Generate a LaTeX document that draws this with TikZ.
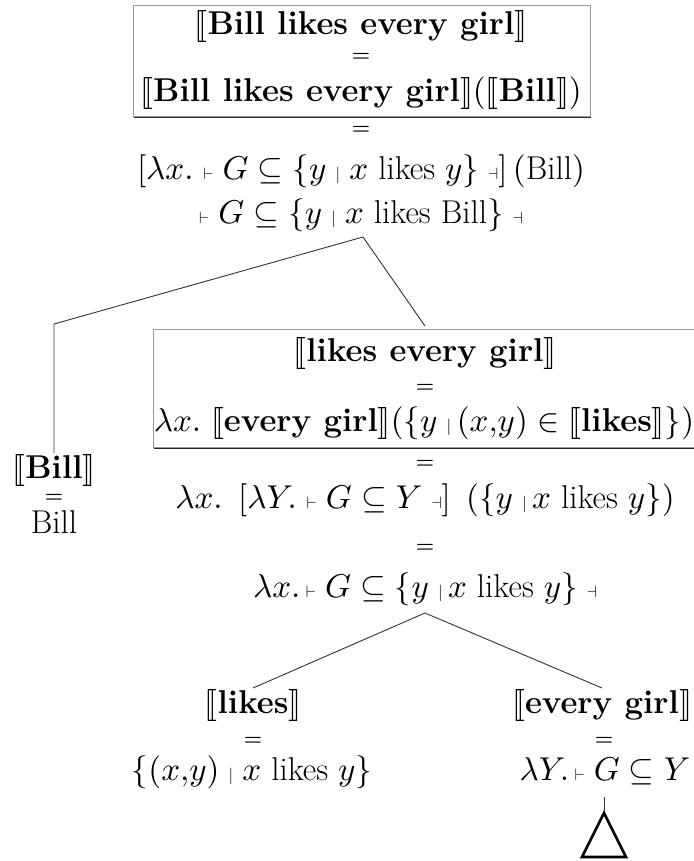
\documentclass[tikz,border=0pt]{standalone}
\usepackage{amsmath,amssymb,stmaryrd}
\DeclareFontShape{OT1}{cmr}{m}{n}{<->cmr10}{}
\DeclareFontShape{OML}{cmm}{m}{it}{<->cmmi10}{}
\DeclareFontShape{OMS}{cmsy}{m}{n}{<->cmsy10}{}
\DeclareFontShape{OMX}{cmex}{m}{n}{<->cmex10}{}
\usetikzlibrary{shadows}
\newcommand{\myvd}{{\scriptscriptstyle\vdash}\;}
\newcommand{\mydv}{\;{\scriptscriptstyle\dashv}}
\newcommand{\mybar}{\;{\scriptscriptstyle|}\;}
\newcommand{\mybarL}{\;{\scriptscriptstyle|}\,}
\newcommand{\lsb}{\mathopen{\text{\scalebox{3.2}{\fontsize{10}{12}\selectfont$\llbracket$}}}}
\newcommand{\rsb}{\mathclose{\text{\scalebox{3.2}{\fontsize{10}{12}\selectfont$\rrbracket$}}}}
\newcommand{\sem}[1]{\lsb\textbf{#1}\rsb}
\begin{document}
\begin{tikzpicture}[x=1pt,y=-1pt,
  txt/.style={inner sep=0pt, anchor=base, font=\fontsize{33}{38}\selectfont},
  bld/.style={inner sep=0pt, anchor=base, font=\fontsize{33}{38}\selectfont},
  eqs/.style={inner sep=0pt, anchor=base, font=\fontsize{21}{25}\selectfont},
  branch/.style={draw=black!80, line width=0.9pt},
  semibox/.style={draw=black!40, line width=0.8pt, fill=white, inner sep=0pt,
    drop shadow={shadow xshift=1.3pt, shadow yshift=-1.6pt, fill=black!85, opacity=1}},
  tri/.style={draw=black, line width=2.6pt, line join=miter}]
\useasboundingbox (0,0) rectangle (693,861);
% boxes
\node[semibox, minimum width=457pt, minimum height=111pt] (box1) at (361.5,60.5) {};
\node[semibox, minimum width=552pt, minimum height=118pt] (box2) at (429,388) {};
% top box text
\node[bld] (t1) at (361,35) {$\sem{Bill likes every girl}$};
\node[eqs] (t2) at (361,62) {\textbf{=}};
\node[bld] (t3) at (361,102) {$\sem{Bill likes every girl}(\sem{Bill})$};
% below top box
\node[eqs] (t4) at (361,135) {\textbf{=}};
\node[txt] (t5) at (361,179) {$[\lambda x.\ \myvd G\subseteq\{y\mybar x\ \text{likes}\ y\}\mydv]\,(\text{Bill})$};
\node[txt] (t6) at (361,223) {$\myvd G\subseteq\{y\mybar x\ \text{likes Bill}\}\mydv$};
% Bill column
\node[bld] (u1) at (54,478) {$\sem{Bill}$};
\node[eqs] (u2) at (54,502) {\textbf{=}};
\node[txt] (u3) at (54,533) {Bill};
% second box text
\node[bld] (s1) at (425,361) {$\sem{likes every girl}$};
\node[eqs] (s2) at (425,392) {\textbf{=}};
\node[txt] (s3) at (424,431) {$\lambda x.\ \sem{every girl}(\{y\mybarL(x{,}y)\in\sem{likes}\})$};
\node[eqs] (s4) at (425,468) {\textbf{=}};
\node[txt] (s5) at (425,508) {$\lambda x.\ \,[\lambda Y.\ \myvd G\subseteq Y\mydv]\ \,(\{y\mybarL x\ \text{likes}\ y\})$};
\node[eqs] (s6) at (425,552) {\textbf{=}};
\node[txt] (s7) at (425,597) {$\lambda x.\,\myvd G\subseteq\{y\mybarL x\ \text{likes}\ y\}\mydv$};
% bottom left
\node[bld] (b1) at (253,713) {$\sem{likes}$};
\node[eqs] (b2) at (253,745) {\textbf{=}};
\node[txt] (b3) at (252,780) {$\{(x{,}y)\mybar x\ \text{likes}\ y\}$};
% bottom right
\node[bld] (c1) at (602,713) {$\sem{every girl}$};
\node[eqs] (c2) at (604,745) {\textbf{=}};
\node[txt] (c3) at (605,780) {$\lambda Y.\,\myvd G\subseteq Y$};
% tree joints
\coordinate (apex1) at (363,237);
\coordinate (bendL) at (54,324);
\coordinate (billTop) at (54,453);
\coordinate (box2Top) at (425,326);
\coordinate (apex2) at (425,613);
\coordinate (likesTop) at (253,688);
\coordinate (egTop) at (602,688);
\coordinate (stemTop) at (604,797);
\coordinate (triTop) at (604,813);
\coordinate (triL) at (582,857);
\coordinate (triR) at (626,857);
\draw[branch] (apex1) -- (bendL) -- (billTop);
\draw[branch] (apex1) -- (box2Top);
\draw[branch] (apex2) -- (likesTop);
\draw[branch] (apex2) -- (egTop);
\draw[branch] (stemTop) -- (triTop);
\draw[tri] (triTop) -- (triR) -- (triL) -- cycle;
\end{tikzpicture}
\end{document}
